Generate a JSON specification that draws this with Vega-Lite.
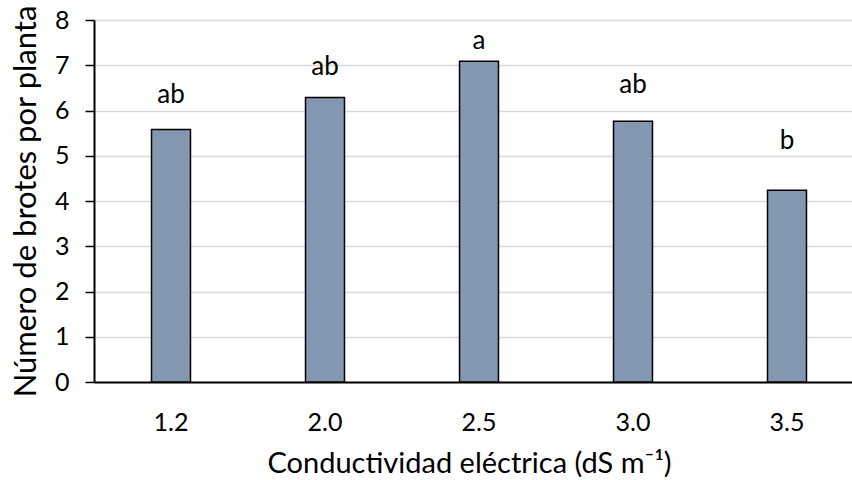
{
  "$schema": "https://vega.github.io/schema/vega-lite/v6.json",
  "autosize": {"type": "none"},
  "padding": {"left": 94, "top": 20, "right": 0, "bottom": 98},
  "width": 770,
  "height": 362,
  "background": "white",
  "config": {
    "font": "Lato",
    "view": {"stroke": null},
    "axis": {"labelFont": "Lato", "titleFont": "Lato", "labelColor": "black", "titleColor": "black", "titleFontWeight": "normal"}
  },
  "data": {
    "values": [
      {"ce": "1.2", "brotes": 5.58, "letra": "ab", "letra_y": 6.16},
      {"ce": "2.0", "brotes": 6.29, "letra": "ab", "letra_y": 6.78},
      {"ce": "2.5", "brotes": 7.09, "letra": "a", "letra_y": 7.37},
      {"ce": "3.0", "brotes": 5.76, "letra": "ab", "letra_y": 6.38},
      {"ce": "3.5", "brotes": 4.24, "letra": "b", "letra_y": 5.14}
    ]
  },
  "encoding": {
    "x": {
      "field": "ce", "type": "nominal", "sort": null,
      "scale": {"paddingInner": 0.747, "paddingOuter": 0.3735},
      "axis": {
        "title": "Conductividad eléctrica (dS m⁻¹)",
        "labelAngle": 0, "labelFontSize": 25, "titleFontSize": 29,
        "ticks": false, "domainColor": "black", "domainWidth": 2,
        "labelPadding": 28, "titlePadding": 14, "grid": false,
        "titleAnchor": "start", "titleX": 173
      }
    }
  },
  "layer": [
    {
      "mark": {"type": "bar", "color": "#8497B0", "stroke": "black", "strokeWidth": 1.5},
      "encoding": {
        "y": {
          "field": "brotes", "type": "quantitative",
          "scale": {"domain": [0, 8], "nice": false},
          "axis": {
            "title": "Número de brotes por planta",
            "values": [0, 1, 2, 3, 4, 5, 6, 7, 8],
            "labelFontSize": 25, "titleFontSize": 31,
            "tickSize": 9, "tickColor": "black", "tickWidth": 1.5,
            "domainColor": "black", "domainWidth": 2,
            "gridColor": "#d9d9d9", "gridWidth": 1.5,
            "labelPadding": 16, "titlePadding": 12
          }
        }
      }
    },
    {
      "mark": {"type": "text", "fontSize": 26, "baseline": "alphabetic", "align": "center", "color": "black"},
      "encoding": {
        "y": {"field": "letra_y", "type": "quantitative"},
        "text": {"field": "letra"}
      }
    }
  ]
}
